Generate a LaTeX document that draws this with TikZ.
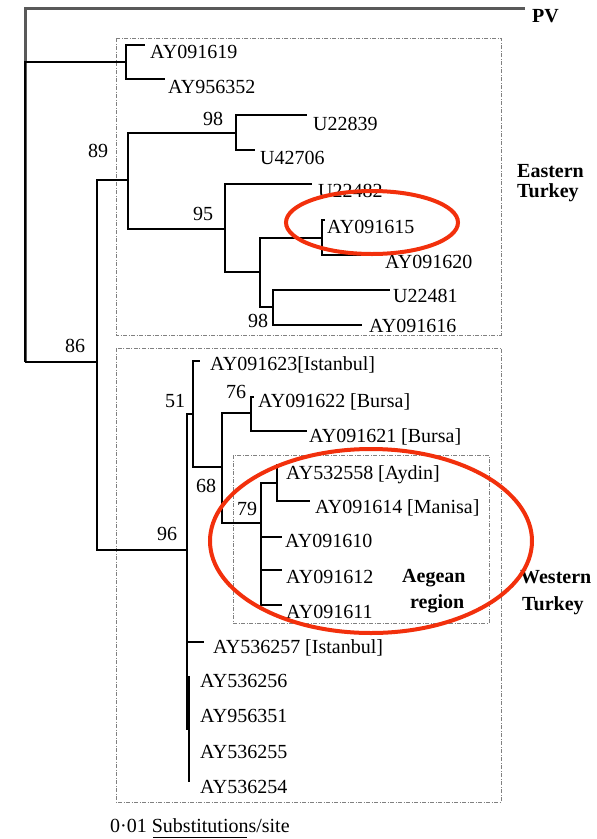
\documentclass[tikz,border=0pt]{standalone}
\usepackage{fontspec}
\setmainfont{Liberation Serif}
\definecolor{hlred}{RGB}{242,48,12}
\begin{document}
\begin{tikzpicture}[x=1pt,y=-1pt,
  br/.style={line width=2pt, line join=miter},
  lab/.style={anchor=base west, inner sep=0pt, font=\fontsize{20}{22}\selectfont},
  reg/.style={anchor=base west, inner sep=0pt, font=\bfseries\fontsize{20}{22}\selectfont},
  regionbox/.style={draw=gray, line width=0.9pt, dash pattern=on 4pt off 1.5pt on 1pt off 1.5pt},
  hl/.style={draw=hlred, line width=4pt}]
\useasboundingbox (0,0) rectangle (597,839);
% boxes
\draw[regionbox] (116,38) rectangle (501,335);
\draw[regionbox] (116,348) rectangle (501,802);
\draw[regionbox] (233,455) rectangle (489,623);
% inner nodes
\coordinate (root) at (25,362);
\coordinate (c1) at (126,62);
\coordinate (n86) at (97,362);
\coordinate (n89) at (128,180);
\coordinate (n98a) at (236,133);
\coordinate (n95) at (225,229);
\coordinate (nA) at (260,272);
\coordinate (nB) at (322,238);
\coordinate (n98b) at (273,307);
\coordinate (n96) at (187,550);
\coordinate (n51) at (193,414);
\coordinate (n68) at (222,467);
\coordinate (n76) at (251,413);
\coordinate (n79) at (261,523);
\coordinate (nC) at (277,483);
\coordinate (nZ) at (188.8,729);
% tips
\coordinate (tPV) at (525,8);
\coordinate (t19) at (145,45);
\coordinate (t52) at (165,79);
\coordinate (t39) at (307,115);
\coordinate (t06) at (255,150);
\coordinate (t82) at (312,184);
\coordinate (t15) at (325,220);
\coordinate (t20) at (380,255);
\coordinate (t81) at (390,290);
\coordinate (t16) at (362,325);
\coordinate (t23) at (200,361);
\coordinate (t22) at (254,397);
\coordinate (t21) at (307,431);
\coordinate (t58) at (282,465);
\coordinate (t14) at (310,501);
\coordinate (t10) at (282,537);
\coordinate (t12) at (282,570);
\coordinate (t11) at (282,605);
\coordinate (t57) at (204,642);
\coordinate (t56) at (188.8,676);
\coordinate (t54) at (188.8,782);
% branches
\draw[line width=3pt, black!65] (root) |- (tPV);
\draw[br] (root) |- (c1);
\draw[br] (root) -- (n86);
\draw[br] (c1) |- (t19);
\draw[br] (c1) |- (t52);
\draw[br] (n86) |- (n89);
\draw[br] (n86) |- (n96);
\draw[br] (n89) |- (n98a);
\draw[br] (n89) |- (n95);
\draw[br] (n98a) |- (t39);
\draw[br] (n98a) |- (t06);
\draw[br] (n95) |- (t82);
\draw[br] (n95) |- (nA);
\draw[br] (nA) |- (nB);
\draw[br] (nA) |- (n98b);
\draw[br] (nB) |- (t15);
\draw[br] (nB) |- (t20);
\draw[br] (n98b) |- (t81);
\draw[br] (n98b) |- (t16);
\draw[br] (n96) |- (n51);
\draw[br] (n96) |- (t57);
\draw[br] (n96) |- (nZ);
\draw[line width=2.6pt] (nZ) |- (t56);
\draw[line width=2.6pt] (nZ) |- (t54);
\draw[br] (n51) |- (t23);
\draw[br] (n51) |- (n68);
\draw[br] (n68) |- (n76);
\draw[br] (n68) |- (n79);
\draw[br] (n76) |- (t22);
\draw[br] (n76) |- (t21);
\draw[br] (n79) |- (nC);
\draw[br] (n79) |- (t10);
\draw[br] (n79) |- (t12);
\draw[br] (n79) |- (t11);
\draw[br] (nC) |- (t58);
\draw[br] (nC) |- (t14);
% tip labels
\node[reg] (lPV) at (532,22) {PV};
\node[lab] (l19) at (150,58) {AY091619};
\node[lab] (l52) at (168,93) {AY956352};
\node[lab] (l39) at (313,130) {U22839};
\node[lab] (l06) at (260,164) {U42706};
\node[lab] (l82) at (318,197) {U22482};
\node[lab] (l15) at (327,233) {AY091615};
\node[lab] (l20) at (385,268) {AY091620};
\node[lab] (l81) at (393,302) {U22481};
\node[lab] (l16) at (369,332) {AY091616};
\node[lab] (l23) at (210,370) {AY091623[Istanbul]};
\node[lab] (l22) at (258,407) {AY091622 [Bursa]};
\node[lab] (l21) at (309,442) {AY091621 [Bursa]};
\node[lab] (l58) at (286,479) {AY532558 [Aydin]};
\node[lab] (l14) at (315,513) {AY091614 [Manisa]};
\node[lab] (l10) at (285,547) {AY091610};
\node[lab] (l12) at (286,583) {AY091612};
\node[lab] (l11) at (286,618) {AY091611};
\node[lab] (l57) at (213,653) {AY536257 [Istanbul]};
\node[lab] (l56) at (200,687) {AY536256};
\node[lab] (l51) at (200,722) {AY956351};
\node[lab] (l55) at (200,758) {AY536255};
\node[lab] (l54) at (200,793) {AY536254};
% bootstrap values
\node[lab] (b89) at (88,157) {89};
\node[lab] (b98a) at (203,125) {98};
\node[lab] (b95) at (193,220) {95};
\node[lab] (b98b) at (248,327) {98};
\node[lab] (b86) at (65,352) {86};
\node[lab] (b51) at (165,407) {51};
\node[lab] (b76) at (226,398) {76};
\node[lab] (b68) at (196,492) {68};
\node[lab] (b79) at (237,515) {79};
\node[lab] (b96) at (157,540) {96};
% region labels
\node[reg] (e1) at (517,177) {Eastern};
\node[reg] (e2) at (517,197) {Turkey};
\node[reg] (w1) at (520,583) {Western};
\node[reg] (w2) at (522,610) {Turkey};
\node[reg] (a1) at (402,582) {Aegean};
\node[reg] (a2) at (410,608) {region};
% scale
\node[lab] (scale) at (110,832) {0·01 Substitutions/site};
\coordinate (s1) at (153,837.5);
\coordinate (s2) at (247,837.5);
\draw[line width=1.2pt] (s1) -- (s2);
% highlight ellipses
\draw[hl] (372,222.5) ellipse [x radius=86, y radius=31.5];
\draw[hl] (371,541) ellipse [x radius=161, y radius=92];
\end{tikzpicture}
\end{document}
